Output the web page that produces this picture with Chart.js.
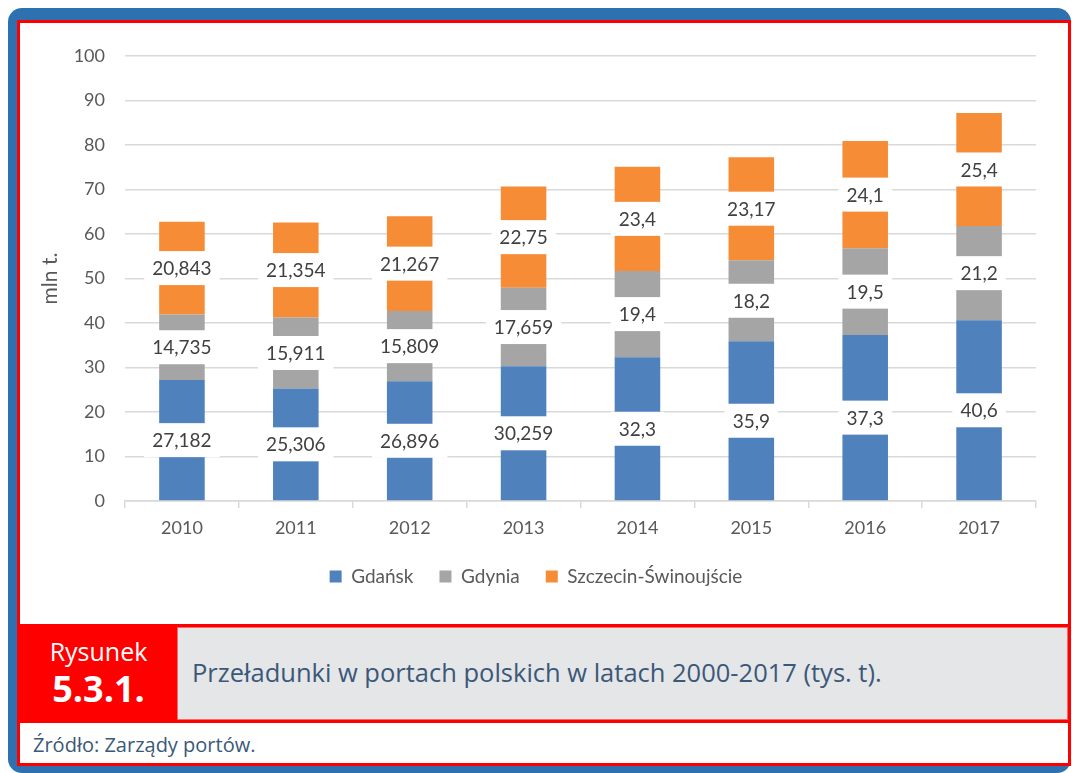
<!DOCTYPE html>
<html lang="pl">
<head>
<meta charset="utf-8">
<title>Przeładunki w portach polskich</title>
<script src="https://cdn.jsdelivr.net/npm/chart.js@4.4.0/dist/chart.umd.min.js"></script>
<style>
    html, body { margin: 0; padding: 0; background: #fff; }
    body { width: 1072px; height: 773px; position: relative; overflow: hidden; }
    .frame-blue {
        position: absolute; left: 8px; top: 8px; width: 1063px; height: 765px;
        background: #2e71b1; border-radius: 14px;
    }
    .frame-red {
        position: absolute; left: 17px; top: 20px; width: 1048px; height: 740px;
        border: 3px solid #ff0000; background: #fff;
    }
    #chartBox { position: absolute; left: 0; top: 0; width: 1049px; height: 601px; }
    .caption {
        position: absolute; left: 0; top: 601px; width: 1048px; height: 93px;
        border-top: 3px solid #ff0000; border-bottom: 3px solid #ff0000;
    }
    .fig-no {
        position: absolute; left: 0; top: 0; width: 157px; height: 93px;
        background: #ff0000; color: #fff; text-align: center;
        font-family: "Open Sans", sans-serif;
    }
    .fig-no .word { position: absolute; left: 0; width: 100%; top: 9px; font-size: 25px; line-height: 30px; }
    .fig-no .num { position: absolute; left: 0; width: 100%; top: 41px; font-size: 36px; font-weight: bold; line-height: 42px; }
    .fig-title {
        position: absolute; left: 157px; top: 0; width: 891px; height: 93px;
        background: #e5e6e8; border: 1px solid #f36b6b; box-sizing: border-box;
        color: #3b5878; font-family: "Open Sans", sans-serif; font-size: 25.5px;
        line-height: 89px; padding-left: 14px;
    }
    .source {
        position: absolute; left: 13px; top: 708px; color: #3b5878;
        font-family: "Open Sans", sans-serif; font-size: 20px;
    }
</style>
</head>
<body>
<div class="frame-blue"></div>
<div class="frame-red">
    <div id="chartBox"><canvas id="portChart" width="1049" height="601"></canvas></div>
    <div class="caption">
        <div class="fig-no"><div class="word">Rysunek</div><div class="num">5.3.1.</div></div>
        <div class="fig-title">Przeładunki w portach polskich w latach 2000-2017 (tys. t).</div>
    </div>
    <div class="source">Źródło: Zarządy portów.</div>
</div>
<script>
// Chart data (mln t.)
const years = ['2010', '2011', '2012', '2013', '2014', '2015', '2016', '2017'];
const gdansk = [27.182, 25.306, 26.896, 30.259, 32.3, 35.9, 37.3, 40.6];
const gdynia = [14.735, 15.911, 15.809, 17.659, 19.4, 18.2, 19.5, 21.2];
const szczecin = [20.843, 21.354, 21.267, 22.75, 23.4, 23.17, 24.1, 25.4];
const yTicks = [0, 10, 20, 30, 40, 50, 60, 70, 80, 90, 100];

const FONT = 'Lato, "Open Sans", sans-serif';

// Polish decimal comma
function formatValue(v) {
    return String(v).replace('.', ',');
}

// White boxed labels in the middle of every segment
const boxLabels = {
    id: 'boxLabels',
    afterDatasetsDraw(chart) {
        const ctx = chart.ctx;
        ctx.save();
        ctx.font = '19px ' + FONT;
        ctx.textAlign = 'center';
        ctx.textBaseline = 'middle';
        chart.data.datasets.forEach(function(ds, i) {
            const meta = chart.getDatasetMeta(i);
            meta.data.forEach(function(bar, j) {
                const txt = formatValue(ds.data[j]);
                const y = (bar.y + bar.base) / 2;
                const w = ctx.measureText(txt).width + 16;
                const h = 34;
                ctx.fillStyle = '#ffffff';
                ctx.fillRect(bar.x - w / 2, y - h / 2, w, h);
                ctx.fillStyle = '#404040';
                ctx.fillText(txt, bar.x, y + 1);
            });
        });
        ctx.restore();
    }
};

function initializeChart() {
    const ctx = document.getElementById('portChart').getContext('2d');
    new Chart(ctx, {
        type: 'bar',
        data: {
            labels: years,
            datasets: [{
                label: 'Gdańsk',
                data: gdansk,
                backgroundColor: '#4f81bd'
            }, {
                label: 'Gdynia',
                data: gdynia,
                backgroundColor: '#a5a5a5'
            }, {
                label: 'Szczecin-Świnoujście',
                data: szczecin,
                backgroundColor: '#f68d36'
            }]
        },
        options: {
            responsive: false,
            animation: false,
            devicePixelRatio: 1,
            datasets: {
                bar: { barPercentage: 0.4, categoryPercentage: 1, borderWidth: 0 }
            },
            layout: {
                padding: { left: 16, right: 33, top: 33, bottom: 28 }
            },
            scales: {
                x: {
                    stacked: true,
                    afterFit: function(scale) {
                        scale.height = 40;
                    },
                    grid: {
                        offset: true,
                        drawOnChartArea: false,
                        drawTicks: true,
                        tickLength: 7,
                        color: '#d9d9d9',
                        lineWidth: 1.5
                    },
                    border: { color: '#d9d9d9', width: 1.5 },
                    ticks: {
                        color: '#595959',
                        font: { family: FONT, size: 18 },
                        padding: 9
                    }
                },
                y: {
                    stacked: true,
                    min: 0,
                    max: 100,
                    afterBuildTicks: function(scale) {
                        scale.ticks = yTicks.map(function(v) { return { value: v }; });
                    },
                    afterFit: function(scale) {
                        scale.width = 89;
                    },
                    grid: {
                        drawTicks: false,
                        color: '#d9d9d9',
                        lineWidth: 1.5
                    },
                    border: { display: false },
                    ticks: {
                        color: '#595959',
                        font: { family: FONT, size: 18 },
                        padding: 20
                    },
                    title: {
                        display: true,
                        text: 'mln t.',
                        color: '#595959',
                        font: { family: FONT, size: 21 },
                        padding: { top: 2, bottom: 0 }
                    }
                }
            },
            plugins: {
                legend: {
                    position: 'bottom',
                    labels: {
                        boxWidth: 12,
                        boxHeight: 12,
                        padding: 26,
                        color: '#595959',
                        font: { family: FONT, size: 19 }
                    }
                },
                tooltip: { enabled: false }
            }
        },
        plugins: [boxLabels]
    });
}

document.addEventListener('DOMContentLoaded', initializeChart);
</script>
</body>
</html>
